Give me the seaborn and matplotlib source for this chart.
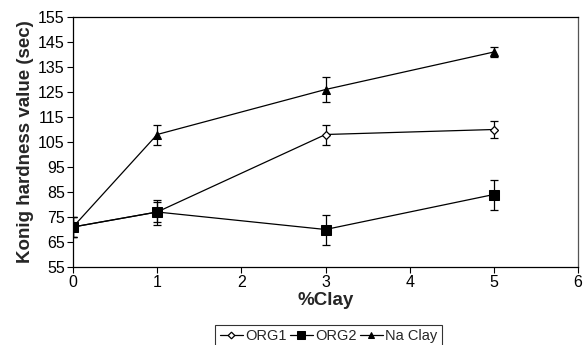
import matplotlib
matplotlib.use("Agg")
import matplotlib.pyplot as plt
import seaborn as sns
import pandas as pd

clay = [0, 1, 3, 5]
org1 = [71, 77, 108, 110]
org1_err = [4, 4, 4, 3.5]
org2 = [71, 77, 70, 84]
org2_err = [4, 5, 6, 6]
naclay = [71, 108, 126, 141]
naclay_err = [4, 4, 5, 2]
series_names = ["ORG1", "ORG2", "Na Clay"]

sns.set_theme(style="white")
plt.rcParams['font.family'] = ['Liberation Sans', 'DejaVu Sans']

rows = []
for name, vals in zip(series_names, [org1, org2, naclay]):
    for x, v in zip(clay, vals):
        rows.append({"clay": x, "value": v, "series": name})
df = pd.DataFrame(rows)

fig = plt.figure(figsize=(5.83, 3.45), dpi=100)
ax = fig.add_axes([73/583, 78/345, 505/583, 250/345])

styles = {
    "ORG1": dict(marker="D", markersize=4.5, markerfacecolor="white", markeredgecolor="black", markeredgewidth=0.9),
    "ORG2": dict(marker="s", markersize=7, markerfacecolor="black", markeredgecolor="black"),
    "Na Clay": dict(marker="^", markersize=5.5, markerfacecolor="black", markeredgecolor="black"),
}
errs = {"ORG1": org1_err, "ORG2": org2_err, "Na Clay": naclay_err}

for name in series_names:
    sub = df[df.series == name]
    ax.errorbar(sub["clay"], sub["value"], yerr=errs[name], fmt="none",
                ecolor="black", elinewidth=0.9, capsize=3, capthick=0.9, zorder=2)
    sns.lineplot(data=sub, x="clay", y="value", ax=ax, color="black",
                 linewidth=0.9, label=name, zorder=3, **styles[name])

ax.set_xlim(0, 6)
ax.set_ylim(55, 155)
ax.set_xticks(range(0, 7))
ax.set_yticks(range(55, 156, 10))
ax.tick_params(axis="both", which="both", direction="out", length=4, width=0.8,
               color="black", labelsize=11.5, labelcolor="black", left=True, bottom=True, pad=2)
for s in ax.spines.values():
    s.set_color("black")
    s.set_linewidth(0.9)
ax.spines["right"].set_color("#555555")
ax.set_xlabel("%Clay", fontsize=13.5, fontweight="bold", labelpad=1)
ax.set_ylabel("Konig hardness value (sec)", fontsize=13.5, fontweight="bold", labelpad=3)

ax.legend_.remove()
handles, labels = ax.get_legend_handles_labels()
leg = fig.legend(handles, labels, loc="center", bbox_to_anchor=(328.5/583, 1 - 336/345),
                 ncol=3, frameon=True, fontsize=10.5, handlelength=1.6, handletextpad=0.15,
                 columnspacing=0.2, borderpad=0.3, fancybox=False, markerscale=0.75)
leg.get_frame().set_edgecolor("black")
leg.get_frame().set_linewidth(0.8)

fig.savefig("out.png", dpi=100)
